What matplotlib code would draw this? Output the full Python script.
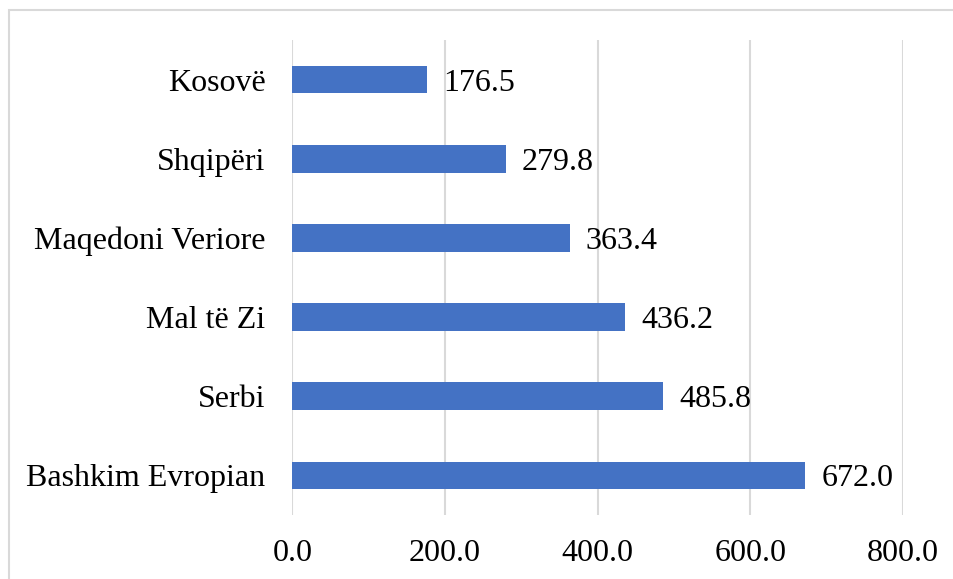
import matplotlib
matplotlib.use("Agg")
import matplotlib.pyplot as plt
from matplotlib.patches import Rectangle

categories = ["Bashkim Evropian", "Serbi", "Mal të Zi", "Maqedoni Veriore", "Shqipëri", "Kosovë"]
values = [672.0, 485.8, 436.2, 363.4, 279.8, 176.5]
xticks = [0, 200, 400, 600, 800]

plt.rcParams['font.family'] = ['Liberation Serif', 'DejaVu Serif']
FS = 23

fig = plt.figure(figsize=(9.54, 5.79), dpi=100)
ax = fig.add_axes([292.5/954, 1-515/579, (903-292.5)/954, (515-40)/579])

y = list(range(len(categories)))
ax.barh(y, values, height=0.35, color='#4472C4', zorder=3)
for yi, v in zip(y, values):
    ax.annotate(f"{v:.1f}", xy=(v, yi), xytext=(11.5, 0), textcoords='offset points',
                va='center_baseline', ha='left', fontsize=FS, color='black')

ax.set_xlim(0, 800)
ax.set_ylim(-0.5, len(categories)-0.5)
ax.set_xticks(xticks)
ax.set_xticklabels([f"{t:.1f}" for t in xticks])
ax.set_yticks(y)
ax.set_yticklabels(categories, va='center_baseline')
ax.tick_params(axis='both', length=0, labelsize=FS)
ax.tick_params(axis='y', pad=19.5)
ax.tick_params(axis='x', pad=17)
ax.grid(axis='x', color='#d9d9d9', linewidth=1.5, zorder=0)
for s in ax.spines.values():
    s.set_visible(False)

fig.patches.append(Rectangle((9/954, -0.1), 1.2, 1-10/579+0.1, transform=fig.transFigure,
                             fill=False, edgecolor='#d9d9d9', linewidth=1.5))

fig.savefig("out.png", dpi=100)
